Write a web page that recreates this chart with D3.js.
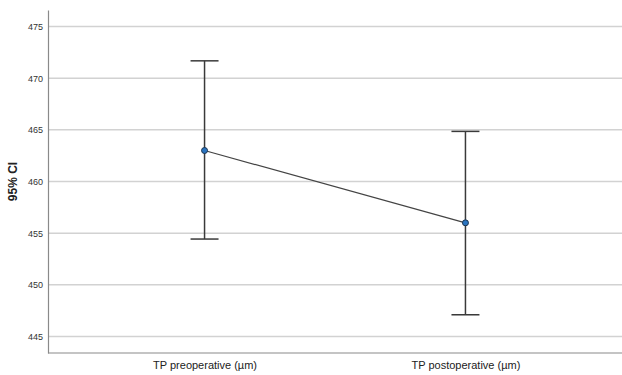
<!DOCTYPE html>
<html>
<head>
<meta charset="utf-8">
<script src="https://cdn.jsdelivr.net/npm/d3@7"></script>
<style>
  body { margin: 0; background: #fff; }
  text { font-family: Arial, "Liberation Sans", sans-serif; }
</style>
</head>
<body>
<div id="chart"></div>
<script>
// 95% CI of TP before / after surgery
const categories = ['TP preoperative (µm)', 'TP postoperative (µm)']
const means = [463.0, 456.0]
const lower = [454.43, 447.1]
const upper = [471.68, 464.85]
const yTicks = [445, 450, 455, 460, 465, 470, 475]

const width = 622
const height = 375
const margin = {top: 10, right: 0, bottom: 22, left: 48}

const svg = d3.select('#chart')
    .append('svg')
    .attr('width', width)
    .attr('height', height)

const xScale = d3.scalePoint()
    .domain(categories)
    .range([margin.left, width - margin.right])
    .padding(0.6)

const yScale = d3.scaleLinear()
    .domain([443.4, 476.6])
    .range([height - margin.bottom, margin.top])

// gridlines
svg.append('g')
    .selectAll('line')
    .data(yTicks)
    .join('line')
    .attr('x1', margin.left)
    .attr('x2', width - margin.right)
    .attr('y1', d => yScale(d))
    .attr('y2', d => yScale(d))
    .attr('stroke', '#d2d2d2')
    .attr('stroke-width', 1.5)

// y axis
const yAxis = d3.axisLeft(yScale).tickValues(yTicks).tickSize(0).tickPadding(5)
const yg = svg.append('g')
    .attr('transform', `translate(${margin.left},0)`)
    .call(yAxis)
yg.select('.domain').attr('stroke', '#8a8a8a').attr('stroke-width', 1.2)
yg.selectAll('text').attr('font-size', 9).attr('fill', '#333')
    .style('font-family', 'Arial, "Liberation Sans", sans-serif')

// x axis
const xAxis = d3.axisBottom(xScale).tickSize(0).tickPadding(8)
const xg = svg.append('g')
    .attr('transform', `translate(0,${height - margin.bottom})`)
    .call(xAxis)
xg.select('.domain').attr('stroke', '#8a8a8a').attr('stroke-width', 1.2)
    .attr('d', `M${margin.left},0H${width}`)
xg.selectAll('text').attr('font-size', 11).attr('fill', '#222')
    .style('font-family', 'Arial, "Liberation Sans", sans-serif')

svg.append('text')
    .attr('transform', `translate(17,${(margin.top + height - margin.bottom) / 2}) rotate(-90)`)
    .attr('text-anchor', 'middle')
    .attr('font-size', 12)
    .attr('font-weight', 'bold')
    .attr('fill', '#222')
    .text('95% CI')

const data = categories.map((c, i) => ({cat: c, mean: means[i], lo: lower[i], hi: upper[i]}))

// error bars
const bars = svg.append('g')
    .attr('stroke', '#3a3a3a')
    .attr('stroke-width', 1.5)
    .selectAll('g')
    .data(data)
    .join('g')

bars.append('line')
    .attr('x1', d => xScale(d.cat)).attr('x2', d => xScale(d.cat))
    .attr('y1', d => yScale(d.lo)).attr('y2', d => yScale(d.hi))
bars.append('line')
    .attr('x1', d => xScale(d.cat) - 14).attr('x2', d => xScale(d.cat) + 14)
    .attr('y1', d => yScale(d.hi)).attr('y2', d => yScale(d.hi))
bars.append('line')
    .attr('x1', d => xScale(d.cat) - 14).attr('x2', d => xScale(d.cat) + 14)
    .attr('y1', d => yScale(d.lo)).attr('y2', d => yScale(d.lo))

// mean line
svg.append('path')
    .datum(data)
    .attr('fill', 'none')
    .attr('stroke', '#444')
    .attr('stroke-width', 1.2)
    .attr('d', d3.line().x(d => xScale(d.cat)).y(d => yScale(d.mean)))

svg.append('g')
    .selectAll('circle')
    .data(data)
    .join('circle')
    .attr('cx', d => xScale(d.cat))
    .attr('cy', d => yScale(d.mean))
    .attr('r', 3)
    .attr('fill', '#2a74c0')
    .attr('stroke', '#1d3550')
    .attr('stroke-width', 1)
</script>
</body>
</html>
